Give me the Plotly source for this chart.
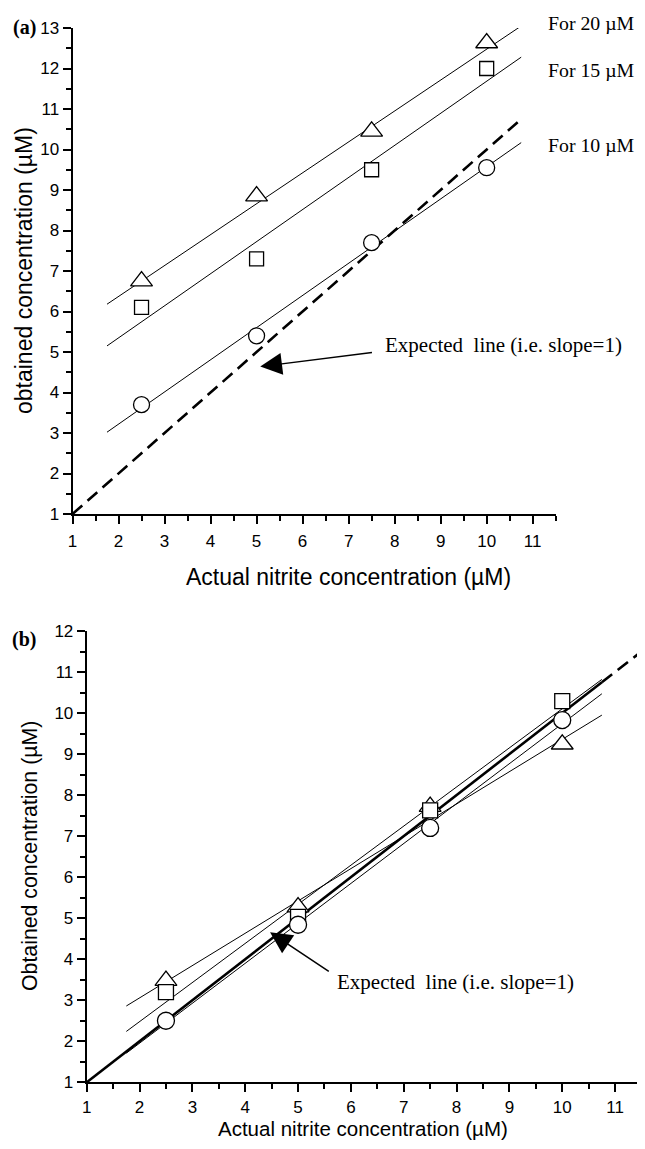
import plotly.graph_objects as go

# page body has an 8px default margin; figure sized so the page fits 645x1149
OFF = 8
W, H = 645 - 2 * OFF, 1149 - 2 * OFF

# ---------------- data ----------------
conc = [2.5, 5.0, 7.5, 10.0]

# panel (a)
a_10uM = [3.7, 5.4, 7.7, 9.55]
a_15uM = [6.1, 7.3, 9.5, 12.0]
a_20uM = [6.75, 8.85, 10.45, 12.63]
fit_x = [1.75, 10.75]
a_fit_10 = [3.02, 10.17]
a_fit_15 = [5.15, 12.28]
a_fit_20 = [6.18, 13.05]
a_expected_x = [1.0, 10.75]

# panel (b)
b_circle = [2.5, 4.84, 7.2, 9.83]
b_square = [3.2, 5.03, 7.63, 10.29]
b_triangle = [3.48, 5.27, 7.72, 9.24]
b_fit_circle = [1.71, 10.47]
b_fit_square = [2.24, 10.82]
b_fit_triangle = [2.86, 9.95]
b_expected_solid = [1.0, 10.75]
b_expected_dash = [10.75, 11.5]

series_labels = ["For 20 \u00b5M", "For 15 \u00b5M", "For 10 \u00b5M"]

SANS = "Liberation Sans, Arial, sans-serif"
SERIF = "Liberation Serif, Times New Roman, serif"


def px(x):
    return (x - OFF) / W


def py(y):
    return 1 - (y - OFF) / H


fig = go.Figure()


def markers(x, y, symbol, size, xa, ya):
    fig.add_trace(go.Scatter(
        x=x, y=y, mode="markers", xaxis=xa, yaxis=ya, showlegend=False,
        marker=dict(symbol=symbol, size=size, color="white",
                    line=dict(color="black", width=1.3)),
        cliponaxis=False))


def line(x, y, xa, ya, width=1, dash="solid"):
    fig.add_trace(go.Scatter(
        x=x, y=y, mode="lines", xaxis=xa, yaxis=ya, showlegend=False,
        line=dict(color="black", width=width, dash=dash), cliponaxis=False))


# panel (a)
line(a_expected_x, a_expected_x, "x", "y", width=2.6, dash="13px,7px")
line(fit_x, a_fit_20, "x", "y")
line(fit_x, a_fit_15, "x", "y")
line(fit_x, a_fit_10, "x", "y")
markers(conc, a_20uM, "triangle-up", 19, "x", "y")
markers(conc, a_15uM, "square", 14, "x", "y")
markers(conc, a_10uM, "circle", 16, "x", "y")

# panel (b)
line(b_expected_solid, b_expected_solid, "x2", "y2", width=2.6)
line(b_expected_dash, b_expected_dash, "x2", "y2", width=2.6, dash="13px,7px")
line(fit_x, b_fit_triangle, "x2", "y2")
line(fit_x, b_fit_square, "x2", "y2")
line(fit_x, b_fit_circle, "x2", "y2")
markers(conc, b_triangle, "triangle-up", 19, "x2", "y2")
markers(conc, b_square, "square", 15, "x2", "y2")
markers(conc, b_circle, "circle", 17, "x2", "y2")


def common_axis():
    return dict(showgrid=False, zeroline=False, showline=True, linecolor="black",
                linewidth=2, ticks="outside", ticklen=8, tickwidth=1.5,
                tickcolor="black", tickmode="array", automargin=False,
                tickfont=dict(family=SANS, size=17, color="black"),
                minor=dict(ticks="outside", ticklen=4.5, tickwidth=1.5,
                           tickcolor="black", dtick=0.5, tick0=1, showgrid=False),
                fixedrange=True)


def xaxis(domain, anchor, rng, standoff):
    d = common_axis()
    d.update(domain=domain, anchor=anchor, range=rng,
             tickvals=list(range(1, 12)), ticklabelstandoff=standoff)
    return d


def yaxis(domain, anchor, rng, top):
    d = common_axis()
    d.update(domain=domain, anchor=anchor, range=rng,
             tickvals=list(range(1, top + 1)))
    return d


# panel (b): x axis would reach 641.5px; clamp at figure edge and keep scale
b_x0, b_x1_ref = 86.7, 641.5
b_x1 = min(b_x1_ref, 645 - OFF)
b_range_end = 1 + 10.5 * (b_x1 - b_x0) / (b_x1_ref - b_x0)

ax_a_x = [px(72.5), px(555.7)]
ax_a_y = [py(514.0), py(28.0)]
ax_b_x = [px(b_x0), px(b_x1)]
ax_b_y = [py(1082.3), py(631.0)]


def ann(text, x, y, size, family=SANS, angle=0, xanchor="center"):
    return dict(text=text, xref="paper", yref="paper", x=px(x), y=py(y),
                xanchor=xanchor, yanchor="middle", showarrow=False, textangle=angle,
                font=dict(family=family, size=size, color="black"))


annotations = [
    ann("Actual nitrite concentration (\u00b5M)", 348.7, 577, 23),
    ann("obtained concentration (\u00b5M)", 24, 271, 23, angle=-90),
    ann("Actual nitrite concentration (\u00b5M)", 363, 1128.5, 20.5),
    ann("Obtained concentration (\u00b5M)", 30, 856, 21.3, angle=-90),
    ann("<b>(a)</b>", 24.7, 27, 20, family=SERIF),
    ann("<b>(b)</b>", 24.2, 639, 20, family=SERIF),
]
for t, yy in zip(series_labels, [22.7, 70, 145]):
    annotations.append(ann(t, 546, yy, 19.8, family=SERIF, xanchor="left"))

annotations.append(dict(text="Expected  line (i.e. slope=1)", xref="x", yref="y", x=7.75, y=5.17,
                        xanchor="left", yanchor="middle", showarrow=False,
                        font=dict(family=SERIF, size=21, color="black")))
annotations.append(dict(text="", xref="x", yref="y", x=5.08, y=4.64, axref="x", ayref="y",
                        ax=7.54, ay=4.99, showarrow=True, arrowhead=2, arrowsize=2.9,
                        arrowwidth=1.5, arrowcolor="black"))
annotations.append(dict(text="Expected  line (i.e. slope=1)", xref="x2", yref="y2", x=5.69, y=3.45,
                        xanchor="left", yanchor="middle", showarrow=False,
                        font=dict(family=SERIF, size=21, color="black")))
annotations.append(dict(text="", xref="x2", yref="y2", x=4.47, y=4.66, axref="x2", ayref="y2",
                        ax=5.61, ay=3.68, showarrow=True, arrowhead=2, arrowsize=2.9,
                        arrowwidth=1.5, arrowcolor="black"))

fig.update_layout(
    width=W, height=H, autosize=False,
    margin=dict(l=0, r=0, t=0, b=0, pad=0),
    paper_bgcolor="white", plot_bgcolor="white",
    showlegend=False,
    xaxis=xaxis(ax_a_x, "y", [1, 11.5], 3),
    yaxis=yaxis(ax_a_y, "x", [1, 13], 13),
    xaxis2=xaxis(ax_b_x, "y2", [1, b_range_end], 0),
    yaxis2=yaxis(ax_b_y, "x2", [1, 12], 12),
    annotations=annotations,
)

fig.write_html("out.html", config={"displayModeBar": False})
